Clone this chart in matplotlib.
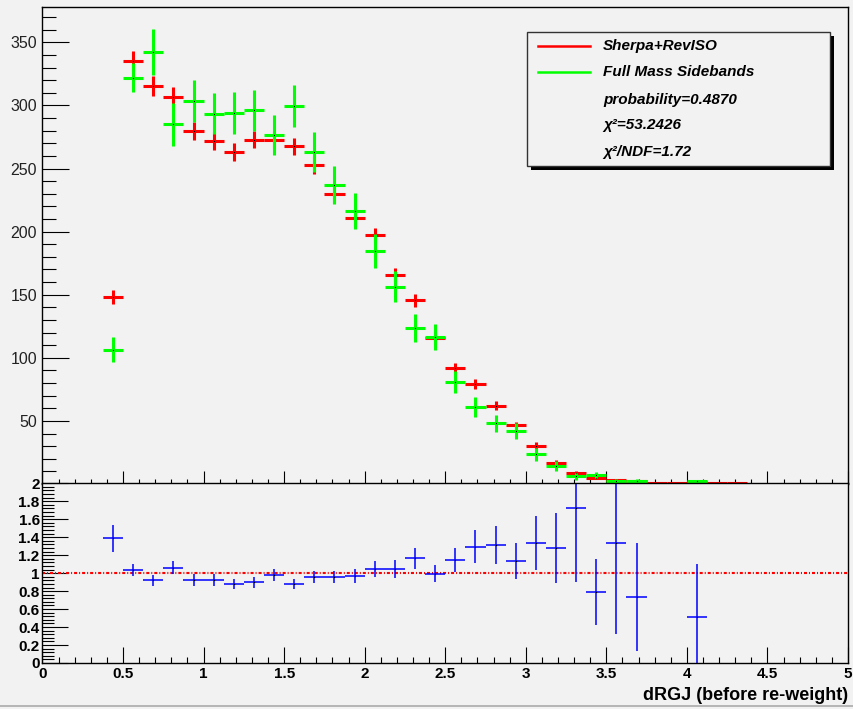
import numpy as np
import matplotlib
matplotlib.use("Agg")
import matplotlib.pyplot as plt
from matplotlib.patches import Rectangle
from matplotlib.lines import Line2D
from matplotlib.ticker import MultipleLocator, FixedLocator

plt.rcParams["font.family"] = ["Liberation Sans", "DejaVu Sans"]

# ---- data ----
bin_width = 0.125
red_x = np.arange(0.4375, 4.375, bin_width)          # 32 bins
red_vals = [148, 335, 315.5, 306.5, 280, 272, 263, 273, 273, 267.5, 253, 229.5,
            211, 197, 165.5, 145.5, 116, 92, 79, 62, 46.5, 30.5, 17, 9, 5,
            2.8, 2, 0.8, 0.6, 1.5, 0.7, 0.5]
red_err = [5.5, 8, 8, 8, 7, 7, 7, 7, 7, 7, 7, 6.5, 6.5, 6, 5.5, 5, 5, 4, 4,
           3.5, 3, 2.5, 2, 1.5, 1, 0.8, 0.6, 0.4, 0.4, 0.6, 0.4, 0.3]

green_x = list(np.arange(0.4375, 3.75, bin_width)) + [4.0625]
green_vals = [106.5, 322, 342.5, 285, 303.5, 293.5, 294, 296, 276.5, 299.5, 263,
              237, 216.5, 184.5, 156.5, 123.5, 116.5, 81, 61, 48, 42, 23.5,
              14.5, 6, 7, 2.1, 2.7, 2.0]
green_err = [10, 11.5, 18, 17, 16.5, 16.5, 16.5, 16.5, 16, 16.5, 16, 15, 14.5,
             13.5, 12.5, 11, 10.5, 8.5, 8, 7, 6.5, 5, 4, 2.5, 2.6, 1.5, 1.6, 1.4]

ratio_x = green_x
ratio_vals = [1.39, 1.03, 0.92, 1.06, 0.92, 0.92, 0.88, 0.90, 0.98, 0.88, 0.955,
              0.955, 0.967, 1.05, 1.05, 1.165, 0.996, 1.15, 1.295, 1.315, 1.14,
              1.34, 1.28, 1.72, 0.79, 1.34, 0.735, 0.51]
ratio_err = [0.15, 0.067, 0.06, 0.074, 0.065, 0.065, 0.06, 0.06, 0.065, 0.06,
             0.065, 0.07, 0.078, 0.09, 0.1, 0.12, 0.1, 0.135, 0.18, 0.21, 0.2,
             0.3, 0.39, 0.82, 0.37, 1.02, 0.6, 0.59]

legend_labels = ["Sherpa+RevISO", "Full Mass Sidebands"]
stats_lines = ["probability=0.4870", "\u03c7\u00b2=53.2426", "\u03c7\u00b2/NDF=1.72"]

BG = "#f2f2f2"
RED, GREEN, BLUE = "#ff0000", "#00ff00", "#0000ff"
W, H = 854, 709

fig = plt.figure(figsize=(W / 100, H / 100), dpi=100, facecolor=BG)


def fx(px):
    return px / W


def fy(py):
    return 1 - py / H


left, right = 42.5, 848
ax = fig.add_axes([fx(left), fy(484), fx(right - left), fy(7) - fy(484)], facecolor=BG)
axr = fig.add_axes([fx(left), fy(663), fx(right - left), fy(483.3) - fy(663)], facecolor=BG)

# ---- top panel ----
for xs, ys, es, col in [(red_x, red_vals, red_err, RED),
                        (green_x, green_vals, green_err, GREEN)]:
    ax.errorbar(xs, ys, xerr=bin_width / 2, yerr=es, fmt="none", ecolor=col,
                elinewidth=2.2, capsize=0)
    ax.plot(xs, ys, "s", ms=0.8, color="black", mew=0)

ax.set_xlim(0, 5)
ax.set_ylim(0, 378)
ax.xaxis.set_major_locator(MultipleLocator(0.5))
ax.xaxis.set_minor_locator(MultipleLocator(0.1))
ax.yaxis.set_major_locator(FixedLocator([0, 50, 100, 150, 200, 250, 300, 350]))
ax.yaxis.set_minor_locator(MultipleLocator(10))
ax.set_yticklabels(["", "50", "100", "150", "200", "250", "300", "350"])
ax.tick_params(axis="x", which="major", direction="in", length=9.5, width=0.8,
               labelbottom=False, top=False)
ax.tick_params(axis="x", which="minor", direction="in", length=3.8, width=0.8, top=False)
ax.tick_params(axis="y", which="major", direction="in", length=19.5, width=0.8,
               labelsize=11.5, pad=4, right=False, labelcolor="#222222")
ax.tick_params(axis="y", which="minor", direction="in", length=10, width=0.8, right=False)
for s in ax.spines.values():
    s.set_linewidth(1.0)

# ---- ratio panel ----
axr.axhline(1.0, color=RED, lw=1.5, linestyle=(0, (1.45, 0.95, 0.5, 0.95)))
axr.errorbar(ratio_x, ratio_vals, xerr=bin_width / 2, yerr=ratio_err, fmt="none",
             ecolor=BLUE, elinewidth=1.1, capsize=0)
axr.plot(ratio_x, ratio_vals, "s", ms=0.8, color="black", mew=0)
axr.set_xlim(0, 5)
axr.set_ylim(0, 2)
axr.xaxis.set_major_locator(MultipleLocator(0.5))
axr.xaxis.set_minor_locator(MultipleLocator(0.1))
axr.yaxis.set_major_locator(MultipleLocator(0.2))
axr.yaxis.set_minor_locator(MultipleLocator(0.04))
axr.set_xticklabels([f"{v:g}" for v in axr.get_xticks()], fontweight="bold")
axr.set_yticklabels([f"{v:g}" for v in axr.get_yticks()], fontweight="bold")
axr.tick_params(axis="x", which="major", direction="in", length=11.5, width=0.8,
                labelsize=11, pad=3, top=False)
axr.tick_params(axis="x", which="minor", direction="in", length=4, width=0.8, top=False)
axr.tick_params(axis="y", which="major", direction="in", length=18.5, width=0.8,
                labelsize=11, pad=2, right=False)
axr.tick_params(axis="y", which="minor", direction="in", length=8.5, width=0.8, right=False)
for s in axr.spines.values():
    s.set_linewidth(1.0)

fig.text(fx(848), fy(696), "dRGJ (before re-weight)", ha="right", va="center",
         fontsize=13, fontweight="bold")

# pad edge near the bottom of the canvas
fig.add_artist(Line2D([0, 1], [fy(706), fy(706)], color="#aaaaaa", lw=1.2,
                      transform=fig.transFigure))

# ---- legend box with ROOT style shadow ----
bx0, by0, bx1, by1 = 527, 32, 830, 166
fig.patches.append(Rectangle((fx(bx0 + 4), fy(by1 + 4)), fx(bx1 - bx0), fy(by0) - fy(by1),
                             transform=fig.transFigure, facecolor="black", edgecolor="none",
                             zorder=5))
fig.patches.append(Rectangle((fx(bx0), fy(by1)), fx(bx1 - bx0), fy(by0) - fy(by1),
                             transform=fig.transFigure, facecolor=BG, edgecolor="#333333",
                             lw=1.0, zorder=6))
row_y = [46, 72, 100, 125, 152]
for yy, col in zip(row_y[:2], [RED, GREEN]):
    fig.add_artist(Line2D([fx(538), fx(590)], [fy(yy), fy(yy)], color=col, lw=1.8,
                          transform=fig.transFigure, zorder=7))
for yy, txt in zip(row_y, legend_labels + stats_lines):
    fig.text(fx(603), fy(yy), txt, ha="left", va="center", fontsize=11,
             fontweight="bold", fontstyle="italic", zorder=8)

fig.savefig("out.png", dpi=100, facecolor=BG)
